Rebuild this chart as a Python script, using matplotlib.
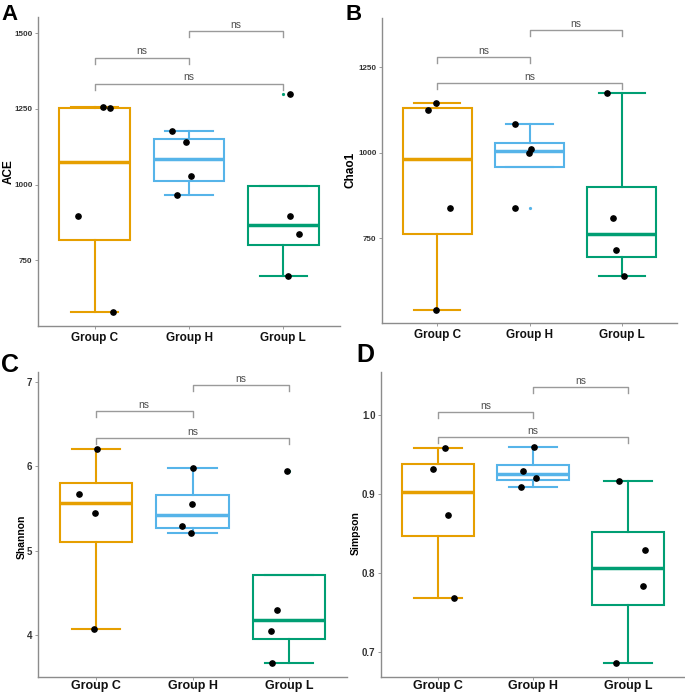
import numpy as np
import matplotlib
matplotlib.use("Agg")
import matplotlib.pyplot as plt

plt.rcParams['font.family'] = ['Liberation Sans', 'DejaVu Sans']

groups = ["Group C", "Group H", "Group L"]
colors = ["#E69F00", "#56B4E9", "#009E73"]

# values, one list per group (n = 4)
ace = [[1256, 1252, 895, 578],
       [1177, 1142, 1028, 965],
       [1300, 895, 835, 699]]
chao1 = [[1145, 1126, 838, 542],
         [1083, 1010, 999, 840],
         [1173, 810, 715, 641]]
shannon = [[6.21, 5.672, 5.447, 4.071],
           [5.98, 5.553, 5.289, 5.21],
           [5.944, 4.296, 4.051, 3.665]]
simpson = [[0.958, 0.932, 0.874, 0.768],
           [0.9595, 0.929, 0.921, 0.909],
           [0.917, 0.8295, 0.783, 0.686]]

# horizontal jitter of the black points (group units)
jit_ace = [[0.09, 0.165, -0.18, 0.19], [-0.175, -0.03, 0.025, -0.13], [0.07, 0.075, 0.17, 0.05]]
jit_chao1 = [[-0.015, -0.1, 0.14, -0.01], [-0.155, 0.02, -0.01, -0.16], [-0.16, -0.09, -0.06, 0.02]]
jit_shannon = [[0.01, -0.175, -0.01, -0.02], [0.0, -0.01, -0.11, -0.02], [-0.02, -0.13, -0.185, -0.18]]
jit_simpson = [[0.077, -0.057, 0.1, 0.165], [0.01, -0.11, 0.035, -0.13], [-0.095, 0.18, 0.16, -0.13]]

W, H = 685, 694
fig = plt.figure(figsize=(W / 100, H / 100), dpi=100)


def px_axes(x0, x1, ytop, ybot):
    return fig.add_axes([x0 / W, 1 - ybot / H, (x1 - x0) / W, (ybot - ytop) / H])


panels = [
    dict(letter="A", ylab="ACE", data=ace, jit=jit_ace, box=(38, 340, 17, 326), ylim=(532, 1554),
         yticks=[750, 1000, 1250, 1500], br=[1420, 1507, 1334], tip=20, lpos=(1, 4), ypos=(9, 172),
         fs_tick=5.8, fs_x=8.5, fs_y=8.5, fs_l=16, xpad=2, ticklabels=["750", "1000", "1250", "1500"]),
    dict(letter="B", ylab="Chao1", data=chao1, jit=jit_chao1, box=(382, 677, 18, 323), ylim=(503, 1393),
         yticks=[750, 1000, 1250], br=[1280, 1357, 1202], tip=17.5, lpos=(345, 4), ypos=(350, 170),
         fs_tick=5.8, fs_x=8.5, fs_y=8.5, fs_l=16, xpad=2, ticklabels=["750", "1000", "1250"]),
    dict(letter="C", ylab="Shannon", data=shannon, jit=jit_shannon, box=(38, 347, 372, 677), ylim=(3.5, 7.12),
         yticks=[4, 5, 6, 7], br=[6.656, 6.96, 6.34], tip=0.071, lpos=(1, 353), ypos=(22, 537),
         fs_tick=7, fs_x=9, fs_y=7.5, fs_l=18, xpad=0.5, ticklabels=["4", "5", "6", "7"]),
    dict(letter="D", ylab="Simpson", data=simpson, jit=jit_simpson, box=(381, 685, 372, 677), ylim=(0.668, 1.055),
         yticks=[0.7, 0.8, 0.9, 1.0], br=[1.004, 1.036, 0.972], tip=0.0076, lpos=(356, 343), ypos=(356, 533),
         fs_tick=7, fs_x=9, fs_y=7.5, fs_l=18, xpad=0.5, ticklabels=["0.7", "0.8", "0.9", "1.0"]),
]

pos = [1, 2, 3]
for p in panels:
    ax = px_axes(*p["box"])
    ax.set_xlim(0.4, 3.6)
    ax.set_ylim(*p["ylim"])

    for i, vals in enumerate(p["data"]):
        c = colors[i]
        ax.boxplot([vals], positions=[pos[i]], widths=0.75, whis=1.5, capwidths=0.5,
                   patch_artist=True, manage_ticks=False,
                   boxprops=dict(facecolor="white", edgecolor=c, linewidth=1.5),
                   medianprops=dict(color=c, linewidth=2.5),
                   whiskerprops=dict(color=c, linewidth=1.5),
                   capprops=dict(color=c, linewidth=1.5),
                   flierprops=dict(marker="o", markersize=1.3, markerfacecolor=c,
                                   markeredgecolor=c))
        xs = [pos[i] + j for j in p["jit"][i]]
        ax.plot(xs, vals, "o", color="black", markersize=3.8, zorder=5)

    # significance brackets
    pairs = [(1, 2), (2, 3), (1, 3)]
    for (a, b), y in zip(pairs, p["br"]):
        t = p["tip"]
        ax.plot([a, a, b, b], [y - t, y, y, y - t], color="#9a9a9a", lw=1.0, zorder=1)
        ax.annotate("ns", xy=((a + b) / 2, y), xytext=(0, 2.2), textcoords="offset points",
                    ha="center", va="baseline", fontsize=7.5, color="#4d4d4d")

    for s in ["top", "right"]:
        ax.spines[s].set_visible(False)
    for s in ["left", "bottom"]:
        ax.spines[s].set_color("#8c8c8c")
        ax.spines[s].set_linewidth(1.0)
    ax.set_yticks(p["yticks"])
    ax.set_yticklabels(p["ticklabels"], fontsize=p["fs_tick"], fontweight="bold", color="#333333")
    ax.set_xticks(pos)
    ax.set_xticklabels(groups, fontsize=p["fs_x"], fontweight="bold", color="#111111")
    ax.tick_params(axis="both", length=2, width=0.6, color="#8c8c8c", pad=2)
    ax.tick_params(axis="x", pad=p["xpad"])
    ax.patch.set_alpha(0)

    fig.text(p["lpos"][0] / W, 1 - p["lpos"][1] / H, p["letter"], fontsize=p["fs_l"],
             fontweight="bold", ha="left", va="top")
    fig.text(p["ypos"][0] / W, 1 - p["ypos"][1] / H, p["ylab"], fontsize=p["fs_y"],
             fontweight="bold", rotation=90, ha="center", va="center")

fig.savefig("out.png", dpi=100)
